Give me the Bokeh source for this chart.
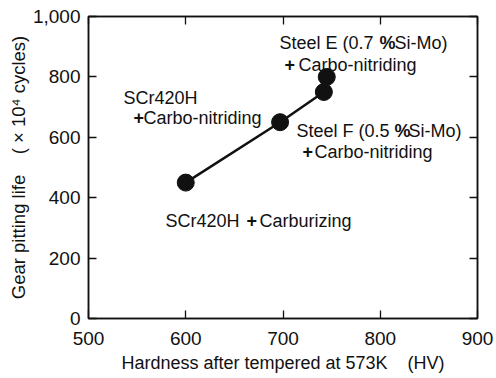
from bokeh.plotting import figure
from bokeh.models import LinearAxis, FixedTicker, NumeralTickFormatter, Range1d, Label
from bokeh.embed import file_html
from bokeh.resources import INLINE

# Hardness after tempering (HV) vs. gear pitting life (x10^4 cycles)
hardness = [600, 697, 742, 745]
pitting_life = [450, 650, 750, 800]
# the trend line joins the first three materials
trend_hardness = hardness[:3]
trend_life = pitting_life[:3]

x_ticks = [500, 600, 700, 800, 900]
y_ticks = [0, 200, 400, 600, 800, 1000]

x_title = "Hardness after tempered at 573K\u00a0\u00a0\u00a0\u00a0(HV)"
y_title = "Gear pitting life\u00a0\u00a0\u00a0\u00a0( \u00d7 10\u2074 cycles)"

FONT = "Liberation Sans"
INK = "#111111"

X0, X1, Y0, Y1 = 500, 900, 0, 1000
W, H = 496, 378
LEFT, RIGHT, TOP, BOTTOM = 88, 19, 16, 60

p = figure(width=W, height=H, output_backend="svg", toolbar_location=None,
           x_range=Range1d(X0, X1), y_range=Range1d(Y0, Y1),
           min_border_left=LEFT, min_border_right=RIGHT,
           min_border_top=TOP, min_border_bottom=BOTTOM,
           x_axis_label=x_title, y_axis_label=y_title)
p.grid.visible = False
p.outline_line_color = INK
p.outline_line_width = 1.5
p.background_fill_color = "white"
p.border_fill_color = "white"


def style_axis(ax, ticks, show_labels):
    ax.ticker = FixedTicker(ticks=ticks)
    ax.minor_tick_line_color = None
    ax.major_tick_in = 8
    ax.major_tick_out = 0
    ax.major_tick_line_color = INK
    ax.major_tick_line_width = 1.3
    ax.axis_line_color = INK
    ax.axis_line_width = 1.5
    if show_labels:
        ax.major_label_text_font = FONT
        ax.major_label_text_font_size = "19px"
        ax.major_label_text_color = INK
        ax.axis_label_text_font = FONT
        ax.axis_label_text_font_size = "18.5px"
        ax.axis_label_text_font_style = "normal"
        ax.axis_label_text_color = INK
    else:
        ax.major_label_text_font_size = "0px"
        ax.major_label_text_color = None
        ax.major_label_standoff = 0


style_axis(p.xaxis[0], x_ticks, True)
p.xaxis[0].major_label_standoff = 13
p.xaxis[0].axis_label_standoff = 5
p.xaxis[0].axis_label_text_font_size = "18px"
style_axis(p.yaxis[0], y_ticks, True)
p.yaxis[0].formatter = NumeralTickFormatter(format="0,0")
p.yaxis[0].major_label_standoff = 8
p.yaxis[0].axis_label_standoff = 1

top_axis = LinearAxis()
style_axis(top_axis, x_ticks, False)
p.add_layout(top_axis, "above")
right_axis = LinearAxis()
style_axis(right_axis, y_ticks, False)
p.add_layout(right_axis, "right")

p.line(trend_hardness, trend_life, line_color=INK, line_width=2.5)
p.scatter(hardness, pitting_life, size=17, fill_color=INK, line_color=INK)


def to_data(px, py):
    fw = W - LEFT - RIGHT
    fh = H - TOP - BOTTOM
    x = X0 + (px - LEFT) * (X1 - X0) / fw
    y = Y0 + (H - BOTTOM - py) * (Y1 - Y0) / fh
    return x, y


def note(text, px, py, bold=False):
    x, y = to_data(px, py)
    p.add_layout(Label(x=x, y=y, text=text, text_font=FONT,
                       text_font_size="18px", text_color=INK,
                       text_font_style="bold" if bold else "normal",
                       text_baseline="alphabetic", text_align="left"))


# Steel E
note("Steel E (0.7", 279, 42)
note("%", 379, 42, bold=True)
note("Si-Mo)", 394, 42)
note("+", 284, 64, bold=True)
note("Carbo-nitriding", 298, 64)

# SCr420H carbo-nitrided
note("SCr420H", 123, 97)
note("+", 133, 117, bold=True)
note("Carbo-nitriding", 143, 117)

# Steel F
note("Steel F (0.5", 296, 130)
note("%", 394, 130, bold=True)
note("Si-Mo)", 408, 130)
note("+", 302, 151, bold=True)
note("Carbo-nitriding", 314, 151)

# SCr420H carburized
note("SCr420H", 165, 220)
note("+", 246, 220, bold=True)
note("Carburizing", 259, 220)

open("out.html", "w").write(file_html(p, INLINE))
